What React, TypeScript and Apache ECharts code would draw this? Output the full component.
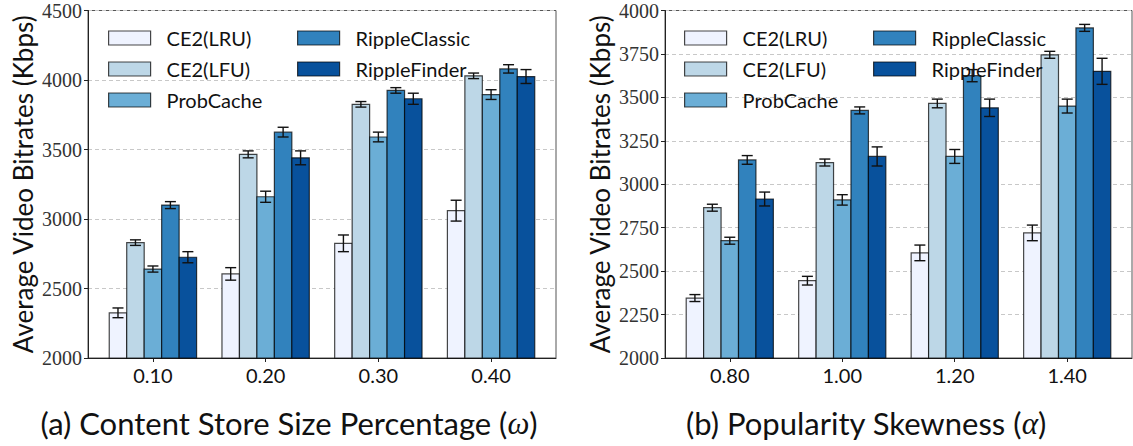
import React, { useEffect, useRef } from "react";
import * as echarts from "echarts";

const methods = ["CE2(LRU)", "CE2(LFU)", "ProbCache", "RippleClassic", "RippleFinder"];
const colors = ["#eff3ff", "#bdd7e7", "#6baed6", "#3182bd", "#08519c"];

const catsA = ["0.10", "0.20", "0.30", "0.40"];
const catsB = ["0.80", "1.00", "1.20", "1.40"];

// values [method][category]
const valsA = [
  [2325, 2605, 2825, 3060],
  [2830, 3465, 3825, 4030],
  [2640, 3160, 3590, 3895],
  [3100, 3625, 3925, 4080],
  [2725, 3440, 3865, 4025],
];
const errsA = [
  [35, 45, 60, 75],
  [20, 25, 20, 20],
  [22, 40, 35, 35],
  [25, 35, 20, 30],
  [40, 50, 40, 50],
];
const valsB = [
  [2345, 2445, 2605, 2720],
  [2865, 3125, 3465, 3745],
  [2675, 2910, 3160, 3450],
  [3140, 3425, 3625, 3900],
  [2915, 3160, 3440, 3650],
];
const errsB = [
  [20, 25, 45, 45],
  [20, 20, 25, 20],
  [20, 30, 40, 40],
  [25, 20, 35, 20],
  [40, 55, 50, 75],
];

const yTicksA = { min: 2000, max: 4500, interval: 500 };
const yTicksB = { min: 2000, max: 4000, interval: 250 };

const captionA = "(a) Content Store Size Percentage ({i|ω})";
const captionB = "(b) Popularity Skewness ({i|α})";

const BAR_W = 0.155;
const SANS = "Lato";
const SERIF = "Liberation Serif";

function makeSeries(vals: number[][], errs: number[][], axisIndex: number) {
  return methods.map((name, si) => ({
    type: "custom",
    name,
    xAxisIndex: axisIndex,
    yAxisIndex: axisIndex,
    itemStyle: { color: colors[si] },
    data: vals[si].map((v, ci) => [ci, v, errs[si][ci]]),
    renderItem: (params: any, api: any) => {
      const ci = api.value(0);
      const v = api.value(1);
      const e = api.value(2);
      const unit = api.size([1, 0])[0];
      const w = BAR_W * unit;
      const cx = api.coord([ci, v])[0] + (si - 2) * BAR_W * unit;
      const top = api.coord([ci, v])[1];
      const base = api.coord([ci, 2000])[1];
      const hi = api.coord([ci, v + e])[1];
      const lo = api.coord([ci, v - e])[1];
      const cap = 5.5;
      const eStyle = { stroke: "#111", lineWidth: 1.4 };
      return {
        type: "group",
        children: [
          {
            type: "rect",
            shape: { x: cx - w / 2, y: top, width: w, height: base - top },
            style: { fill: colors[si], stroke: "rgba(0,0,0,0.72)", lineWidth: 1.2 },
          },
          { type: "line", shape: { x1: cx, y1: hi, x2: cx, y2: lo }, style: eStyle },
          { type: "line", shape: { x1: cx - cap, y1: hi, x2: cx + cap, y2: hi }, style: eStyle },
          { type: "line", shape: { x1: cx - cap, y1: lo, x2: cx + cap, y2: lo }, style: eStyle },
        ],
      };
    },
  }));
}

function makeX(cats: string[], gridIndex: number) {
  return {
    type: "value",
    gridIndex,
    min: -0.576,
    max: 3.576,
    splitLine: { show: false },
    axisLine: { show: true, onZero: false, lineStyle: { color: "#222", width: 1 } },
    axisTick: {
      show: true,
      length: 4,
      customValues: cats.map((_, i) => i),
      lineStyle: { color: "#222" },
    },
    axisLabel: {
      customValues: cats.map((_, i) => i),
      formatter: (v: number) => cats[Math.round(v)] ?? "",
      fontFamily: SANS,
      fontSize: 20,
      color: "#111",
      margin: 7,
    },
  };
}

function makeY(t: { min: number; max: number; interval: number }, gridIndex: number) {
  return {
    type: "value",
    gridIndex,
    min: t.min,
    max: t.max,
    interval: t.interval,
    name: "Average Video Bitrates (Kbps)",
    nameLocation: "middle",
    nameRotate: 90,
    nameGap: 52,
    nameTextStyle: { fontFamily: SANS, fontSize: 26, color: "#111" },
    axisLine: { show: true, onZero: false, lineStyle: { color: "#222" } },
    axisTick: { show: true, length: 4, lineStyle: { color: "#222" } },
    axisLabel: {
      fontFamily: SERIF,
      fontSize: 20,
      color: "#333",
      margin: 6,
      formatter: (v: number) => String(v),
    },
    splitLine: { show: true, lineStyle: { color: "#c8c8c8", type: [4, 3], width: 1 } },
  };
}

function legendData(names: string[]) {
  return names.map((n) => {
    const i = methods.indexOf(n);
    return {
      name: n,
      icon: "rect",
      itemStyle: { color: colors[i], borderColor: "rgba(0,0,0,0.72)", borderWidth: 1.2 },
    };
  });
}

function makeLegend(names: string[], left: number, top: number) {
  return {
    orient: "vertical",
    left,
    top,
    itemWidth: 42,
    itemHeight: 14,
    itemGap: 9,
    padding: 0,
    selectedMode: false,
    data: legendData(names),
    textStyle: {
      fontFamily: SANS,
      fontSize: 20,
      color: "#111",
      lineHeight: 22,
      padding: [0, 0, 0, 11],
    },
  };
}

export default function App() {
  const ref = useRef<HTMLDivElement>(null);
  useEffect(() => {
    if (!ref.current) return;
    const chart = echarts.init(ref.current, null, { renderer: "svg" });
    const col1 = methods.slice(0, 3);
    const col2 = methods.slice(3);
    const capStyle = (text: string) => ({
      text,
      align: "center",
      verticalAlign: "middle",
      fontFamily: SANS,
      fontSize: 31,
      fill: "#111",
      rich: { i: { fontFamily: SERIF, fontStyle: "italic", fontSize: 31, fill: "#111" } },
    });
    chart.setOption({
      animation: false,
      backgroundColor: "#fff",
      grid: [
        { left: 88, top: 10.5, width: 468, height: 347.5, show: true, borderColor: "#555", borderWidth: 1 },
        { left: 665, top: 10.5, width: 467, height: 347.5, show: true, borderColor: "#555", borderWidth: 1 },
      ],
      xAxis: [makeX(catsA, 0), makeX(catsB, 1)],
      yAxis: [makeY(yTicksA, 0), makeY(yTicksB, 1)],
      legend: [
        makeLegend(col1, 108, 27),
        makeLegend(col2, 297, 27),
        makeLegend(col1, 684, 27),
        makeLegend(col2, 873, 27),
      ],
      series: [...makeSeries(valsA, errsA, 0), ...makeSeries(valsB, errsB, 1)],
      graphic: [
        { type: "text", x: 289, y: 423, style: capStyle(captionA) },
        { type: "text", x: 866, y: 423, style: capStyle(captionB) },
      ],
    });
    return () => chart.dispose();
  }, []);
  return (
    <div
      ref={ref}
      style={{ position: "absolute", left: 0, top: 0, width: 1133, height: 446 }}
    />
  );
}
